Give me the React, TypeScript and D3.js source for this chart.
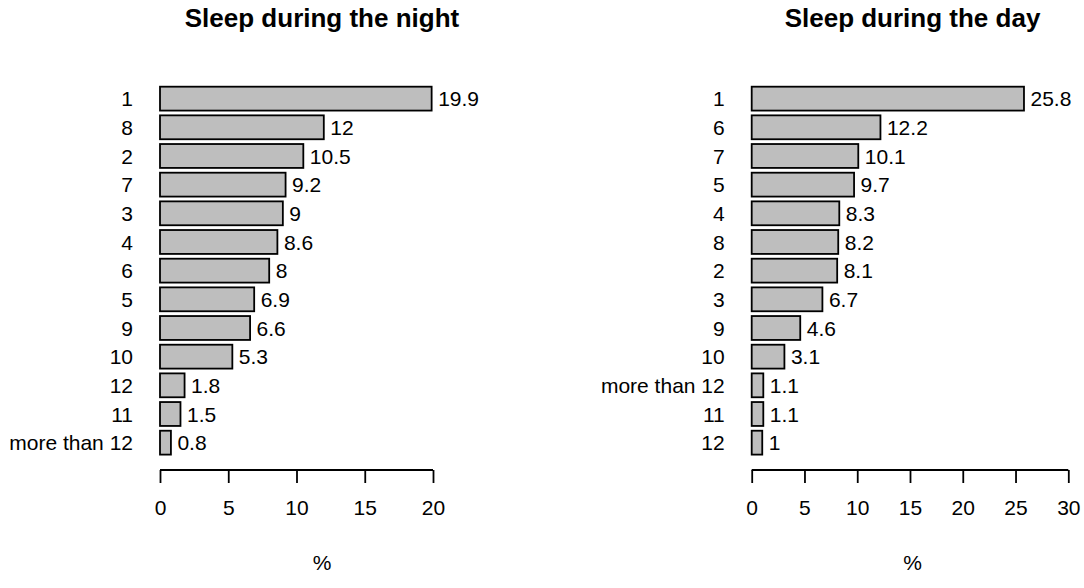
import { useEffect, useRef } from "react";
import * as d3 from "d3";

// night panel (sorted as in the figure)
const nightCategories = ["1", "8", "2", "7", "3", "4", "6", "5", "9", "10", "12", "11", "more than 12"];
const nightValues = [19.9, 12, 10.5, 9.2, 9, 8.6, 8, 6.9, 6.6, 5.3, 1.8, 1.5, 0.8];
const nightTicks = [0, 5, 10, 15, 20];

// day panel
const dayCategories = ["1", "6", "7", "5", "4", "8", "2", "3", "9", "10", "more than 12", "11", "12"];
const dayValues = [25.8, 12.2, 10.1, 9.7, 8.3, 8.2, 8.1, 6.7, 4.6, 3.1, 1.1, 1.1, 1];
const dayTicks = [0, 5, 10, 15, 20, 25, 30];

const W = 1084;
const H = 588;
const FONT = "'Liberation Sans', Arial, sans-serif";
const LABEL_SIZE = "21px";

interface Panel {
    title: string;
    categories: string[];
    values: number[];
    ticks: number[];
    x0: number;
    x1: number;
    center: number;
}

const panels: Panel[] = [
    { title: "Sleep during the night", categories: nightCategories, values: nightValues, ticks: nightTicks, x0: 160, x1: 433, center: 322 },
    { title: "Sleep during the day", categories: dayCategories, values: dayValues, ticks: dayTicks, x0: 751.7, x1: 1068.3, center: 912.5 },
];

export default function App() {
    const ref = useRef<SVGSVGElement>(null);

    useEffect(() => {
        const svg = d3.select(ref.current);
        svg.selectAll("*").remove();

        const axisY = 470;

        panels.forEach((p) => {
            const g = svg.append("g").style("font-family", FONT);
            const tickMax = p.ticks[p.ticks.length - 1];

            const x = d3.scaleLinear().domain([0, tickMax]).range([p.x0, p.x1]);
            const y = d3
                .scaleBand()
                .domain(p.categories)
                .range([84.3, 457.0])
                .paddingInner(1 / 6)
                .paddingOuter(1 / 12);

            const rows = p.categories.map((c, i) => ({ c, v: p.values[i] }));

            g.selectAll("rect")
                .data(rows)
                .enter()
                .append("rect")
                .attr("x", x(0))
                .attr("y", (d) => y(d.c) || 0)
                .attr("width", (d) => x(d.v) - x(0))
                .attr("height", y.bandwidth())
                .attr("fill", "#bebebe")
                .attr("stroke", "#000")
                .attr("stroke-width", 1.8);

            // category labels
            g.selectAll(".cat")
                .data(rows)
                .enter()
                .append("text")
                .attr("x", x(0) - 27)
                .attr("y", (d) => (y(d.c) || 0) + y.bandwidth() / 2)
                .attr("dy", "0.36em")
                .attr("text-anchor", "end")
                .style("font-size", LABEL_SIZE)
                .text((d) => d.c);

            // value labels
            g.selectAll(".val")
                .data(rows)
                .enter()
                .append("text")
                .attr("x", (d) => x(d.v) + 6.5)
                .attr("y", (d) => (y(d.c) || 0) + y.bandwidth() / 2)
                .attr("dy", "0.36em")
                .style("font-size", LABEL_SIZE)
                .text((d) => String(d.v));

            // x axis
            const axis = g
                .append("g")
                .attr("transform", `translate(0,${axisY})`)
                .call(d3.axisBottom(x).tickValues(p.ticks).tickSize(13).tickPadding(17).tickSizeOuter(0));
            axis.select(".domain").attr("stroke", "#000").attr("stroke-width", 1.8).attr("d", `M${x(0)},0H${x(tickMax)}`);
            axis.selectAll(".tick line").attr("stroke", "#000").attr("stroke-width", 1.8);
            axis.selectAll(".tick text")
                .attr("fill", "#000")
                .style("font-size", LABEL_SIZE)
                .style("font-family", FONT);

            g.append("text")
                .attr("x", p.center)
                .attr("y", 570)
                .attr("text-anchor", "middle")
                .style("font-size", LABEL_SIZE)
                .text("%");

            g.append("text")
                .attr("x", p.center)
                .attr("y", 27)
                .attr("text-anchor", "middle")
                .style("font-size", "26px")
                .style("font-weight", "bold")
                .text(p.title);
        });
    }, []);

    return (
        <svg
            ref={ref}
            width={W}
            height={H}
            style={{ position: "absolute", left: 0, top: 0, background: "#fff" }}
        />
    );
}
